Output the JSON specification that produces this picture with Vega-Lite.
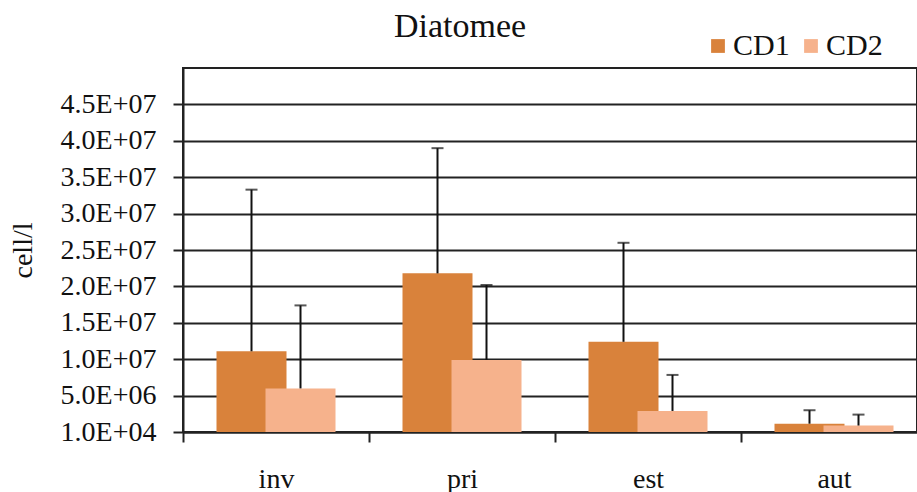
{
  "$schema": "https://vega.github.io/schema/vega-lite/v6.json",
  "autosize": {"type": "none"},
  "padding": {"left": 183, "top": 68, "right": 0, "bottom": 60},
  "width": 734,
  "height": 364,
  "background": "white",
  "config": {
    "font": "Liberation Serif",
    "view": {"stroke": "#222", "strokeWidth": 2}
  },
  "title": {
    "text": "Diatomee",
    "font": "Liberation Serif",
    "fontSize": 34,
    "fontWeight": "normal",
    "color": "#111",
    "anchor": "middle",
    "frame": "group",
    "dx": -90,
    "dy": 69,
    "baseline": "alphabetic",
    "offset": 29
  },
  "data": {
    "values": [
      {"season": "inv", "series": "CD1", "value": 11100000, "upper": 33300000},
      {"season": "inv", "series": "CD2", "value": 6000000, "upper": 17400000},
      {"season": "pri", "series": "CD1", "value": 21800000, "upper": 39000000},
      {"season": "pri", "series": "CD2", "value": 9900000, "upper": 20200000},
      {"season": "est", "series": "CD1", "value": 12400000, "upper": 26000000},
      {"season": "est", "series": "CD2", "value": 2900000, "upper": 7850000},
      {"season": "aut", "series": "CD1", "value": 1150000, "upper": 3000000},
      {"season": "aut", "series": "CD2", "value": 900000, "upper": 2400000}
    ]
  },
  "encoding": {
    "x": {
      "field": "season",
      "type": "nominal",
      "sort": ["inv", "pri", "est", "aut"],
      "scale": {"range": [0, 744], "paddingInner": 0, "paddingOuter": 0},
      "axis": {
        "title": null,
        "labelAngle": 0,
        "labelFont": "Liberation Serif",
        "labelFontSize": 28,
        "labelColor": "#111",
        "labelBaseline": "alphabetic",
        "labelPadding": 45,
        "tickBand": "extent",
        "tickSize": 10,
        "tickColor": "#222",
        "tickWidth": 2,
        "domainColor": "#222",
        "domainWidth": 2,
        "grid": false
      }
    }
  },
  "layer": [
    {
      "transform": [{"filter": "datum.series == 'CD1'"}],
      "mark": {"type": "bar", "width": 70, "xOffset": -24.5},
      "encoding": {
        "y": {
          "field": "value",
          "type": "quantitative",
          "scale": {"domain": [10000, 50010000], "nice": false, "zero": false},
          "axis": {
            "title": "cell/l",
            "titleFont": "Liberation Serif",
            "titleFontSize": 28,
            "titleFontWeight": "normal",
            "titleColor": "#111",
            "titleBaseline": "alphabetic",
            "titleX": -152,
            "titleY": 182,
            "titleAngle": -90,
            "titleAlign": "center",
            "values": [10000, 5010000, 10010000, 15010000, 20010000, 25010000, 30010000, 35010000, 40010000, 45010000],
            "labelExpr": "format(datum.value / pow(10, floor(log(datum.value) / LN10 + 1e-9)), '.1f') + 'E+' + (floor(log(datum.value) / LN10 + 1e-9) < 10 ? '0' : '') + floor(log(datum.value) / LN10 + 1e-9)",
            "labelFont": "Liberation Serif",
            "labelFontSize": 28,
            "labelColor": "#111",
            "labelPadding": 17,
            "tickSize": 10,
            "tickColor": "#222",
            "tickWidth": 2,
            "domainColor": "#222",
            "domainWidth": 2,
            "grid": true,
            "gridColor": "#222",
            "gridWidth": 2
          }
        },
        "y2": {"datum": 10000},
        "color": {
          "field": "series",
          "type": "nominal",
          "scale": {"domain": ["CD1", "CD2"], "range": ["#D9823B", "#F6B28C"]},
          "legend": {
            "title": null,
            "orient": "none",
            "legendX": 520,
            "legendY": -37,
            "direction": "horizontal",
            "symbolType": "square",
            "symbolSize": 190,
            "symbolStrokeWidth": 0,
            "labelFont": "Liberation Serif",
            "labelFontSize": 30,
            "labelColor": "#111",
            "labelOffset": 0,
            "columnPadding": 6
          }
        }
      }
    },
    {
      "transform": [{"filter": "datum.series == 'CD2'"}],
      "mark": {"type": "bar", "width": 70, "xOffset": 24.5},
      "encoding": {
        "y": {"field": "value", "type": "quantitative"},
        "y2": {"datum": 10000},
        "color": {"field": "series", "type": "nominal"}
      }
    },
    {
      "transform": [{"filter": "datum.series == 'CD1'"}],
      "mark": {"type": "rule", "color": "#111", "strokeWidth": 2, "xOffset": -24.5},
      "encoding": {
        "y": {"field": "value", "type": "quantitative"},
        "y2": {"field": "upper"}
      }
    },
    {
      "transform": [{"filter": "datum.series == 'CD2'"}],
      "mark": {"type": "rule", "color": "#111", "strokeWidth": 2, "xOffset": 24.5},
      "encoding": {
        "y": {"field": "value", "type": "quantitative"},
        "y2": {"field": "upper"}
      }
    },
    {
      "transform": [{"filter": "datum.series == 'CD1'"}],
      "mark": {"type": "tick", "color": "#111", "thickness": 2, "size": 12, "xOffset": -24.5},
      "encoding": {
        "y": {"field": "upper", "type": "quantitative"}
      }
    },
    {
      "transform": [{"filter": "datum.series == 'CD2'"}],
      "mark": {"type": "tick", "color": "#111", "thickness": 2, "size": 12, "xOffset": 24.5},
      "encoding": {
        "y": {"field": "upper", "type": "quantitative"}
      }
    }
  ]
}
